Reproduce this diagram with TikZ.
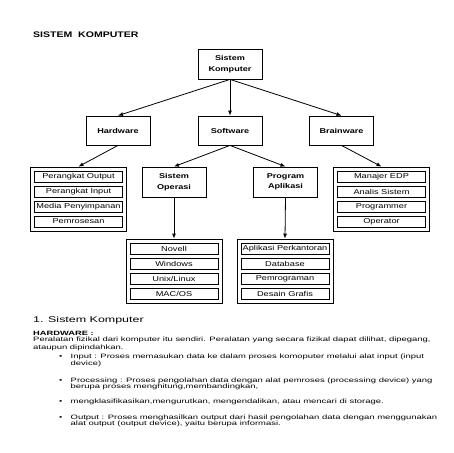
\documentclass[tikz,border=0pt]{standalone}
\usepackage{fontspec}
\setmainfont{Liberation Sans}
\newfontfamily\boxfont[FakeStretch=1.3]{Liberation Sans}
\newfontfamily\bodyfont[FakeStretch=1.5]{Liberation Sans}
\usetikzlibrary{arrows.meta}
\begin{document}
\begin{tikzpicture}[x=1pt,y=-1pt,
    box/.style={draw,line width=0.8pt,minimum width=64pt,minimum height=30pt,inner sep=0pt,align=center,
      font=\boxfont\bfseries\fontsize{7}{10.5}\selectfont},
    frame/.style={draw,line width=0.8pt,minimum width=96pt,minimum height=64pt,inner sep=0pt},
    item/.style={draw,line width=0.5pt,minimum width=88pt,minimum height=11pt,inner sep=0pt,
      font=\boxfont\fontsize{7.1}{8}\selectfont},
    arr/.style={line width=0.8pt,-{Latex[length=5pt,width=4pt]}},
    txt/.style={anchor=base west,inner sep=0pt,font=\bodyfont\fontsize{6.3}{7}\selectfont}]
    \useasboundingbox (0,0) rectangle (453,453);
    \node[anchor=base west,inner sep=0pt,font=\boxfont\bfseries\fontsize{8.1}{9}\selectfont] (title) at (33,37.9) {SISTEM\ \ KOMPUTER};
    \node[box] (sk) at (230,64) {Sistem\\Komputer};
    \foreach \n/\x/\t in {hw/118/Hardware, sw/230/Software, bw/341.5/Brainware}
      \node[box,minimum height=29pt] (\n) at (\x,130.5) {\t};
    \node[box] (so) at (174,182) {Sistem\\Operasi};
    \node[box] (pa) at (285.5,182) {Program\\Aplikasi};
    \foreach \n/\x/\y in {hwl/78.5/199, bwl/381.5/199, sol/174/271, pal/285/271}
      \node[frame] (\n) at (\x,\y) {};
    \foreach \i/\t in {1/Perangkat Output, 2/Perangkat Input, 3/Media Penyimpanan, 4/Pemrosesan}
      \node[item] (hwl\i) at (78.5,{161.5+15*\i}) {\t};
    \foreach \i/\t in {1/Manajer EDP, 2/Analis Sistem, 3/Programmer, 4/Operator}
      \node[item] (bwl\i) at (381.5,{161.5+15*\i}) {\t};
    \foreach \i/\t in {1/Novell, 2/Windows, 3/{Unix/Linux}, 4/{MAC/OS}}
      \node[item] (sol\i) at (174,{233.5+15*\i}) {\t};
    \foreach \i/\t in {1/Aplikasi Perkantoran, 2/Database, 3/Pemrograman, 4/Desain Grafis}
      \node[item] (pal\i) at (285,{233.5+15*\i}) {\t};
    \draw[arr] (sk.south) -- (hw.north);
    \draw[arr] (sk.south) -- (sw.north);
    \draw[arr] (sk.south) -- (bw.north);
    \draw[arr] (hw.south) -- (hwl.north);
    \draw[arr] (sw.south) -- (so.north);
    \draw[arr] (sw.south) -- (pa.north);
    \draw[arr] (bw.south) -- (bwl.north);
    \draw[arr] (so.south) -- (sol.north);
    \draw[arr] (pa.south) -- (pal.north);
    \node[txt,font=\bodyfont\fontsize{8.3}{9}\selectfont] (sub) at (33,322) {1. Sistem Komputer};
    \node[txt,font=\bodyfont\bfseries\fontsize{6.2}{7}\selectfont] (hd) at (33,335.3) {HARDWARE :};
    \foreach \n/\x/\y/\t in {
      p1/33/341.7/{Peralatan fizikal dari komputer itu sendiri. Peralatan yang secara fizikal dapat dilihat, dipegang,},
      p2/33/349.2/{ataupun dipindahkan.},
      i1/70.5/358.7/{Input : Proses memasukan data ke dalam proses komoputer melalui alat input (input},
      i2/70.5/365.2/{device)},
      r1/70.5/382.2/{Processing : Proses pengolahan data dengan alat pemroses (processing device) yang},
      r2/70.5/388.2/{berupa proses menghitung,membandingkan,},
      m1/70.5/403.7/{mengklasifikasikan,mengurutkan, mengendalikan, atau mencari di storage.},
      o1/70.5/419.2/{Output : Proses menghasilkan output dari hasil pengolahan data dengan menggunakan},
      o2/70.5/425.2/{alat output (output device), yaitu berupa informasi.}}
      \node[txt] (\n) at (\x,\y) {\t};
    \foreach \n/\y in {b1/358.7, b2/382.2, b3/403.7, b4/419.2}
      \node[txt] (\n) at (59,\y) {\textbullet};
\end{tikzpicture}
\end{document}
